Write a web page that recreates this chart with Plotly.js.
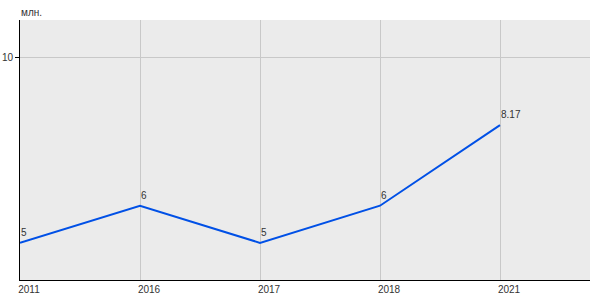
<!DOCTYPE html>
<html><head><meta charset="utf-8">
<script src="https://cdn.plot.ly/plotly-3.0.1.min.js"></script>
<style>body{margin:0}#c{width:600px;height:300px}</style>
</head><body><div id="c"></div>
<script>
const years = ['2011','2016','2017','2018','2021'];
const values = [5, 6, 5, 6, 8.17];
const labels = ['5','6','5','6','8.17'];

const trace = {
  x: years.map((_, i) => i),
  y: values,
  type: 'scatter',
  mode: 'lines',
  line: {color: '#0050e6', width: 2},
  hoverinfo: 'none'
};

const pointLabels = values.map((v, i) => ({
  text: labels[i], xref: 'x', yref: 'y', x: i, y: v,
  xanchor: 'left', yanchor: 'bottom', yshift: 3, xshift: -1,
  showarrow: false, font: {size: 10, color: '#333'}
}));

const layout = {
  width: 600, height: 300,
  margin: {l: 20, r: 10, t: 20, b: 20},
  paper_bgcolor: '#ffffff',
  plot_bgcolor: '#ebebeb',
  showlegend: false,
  font: {family: 'Liberation Sans, Arial, sans-serif', size: 10, color: '#333'},
  xaxis: {
    range: [0, 4.75],
    tickvals: years.map((_, i) => i),
    ticktext: years,
    showgrid: true, gridcolor: '#c8c8c8', gridwidth: 1,
    zeroline: false,
    showline: true, linecolor: '#000', linewidth: 1,
    ticks: '', ticklabelshift: 9, ticklabelstandoff: 0,
    tickfont: {size: 10, color: '#333'},
    fixedrange: true
  },
  yaxis: {
    range: [4, 11],
    tickvals: [10],
    ticktext: ['10'],
    showgrid: true, gridcolor: '#c8c8c8', gridwidth: 1,
    zeroline: false,
    showline: true, linecolor: '#000', linewidth: 1,
    ticks: 'outside', ticklen: 4, tickcolor: '#000',
    tickfont: {size: 10, color: '#333'},
    fixedrange: true
  },
  annotations: [{
    text: 'млн.', xref: 'paper', yref: 'paper', x: 0, y: 1,
    xanchor: 'left', yanchor: 'bottom', yshift: 0, xshift: -1, showarrow: false,
    font: {size: 10, color: '#333'}
  }].concat(pointLabels)
};
Plotly.newPlot('c', [trace], layout, {displayModeBar: false, staticPlot: true});
</script></body></html>
